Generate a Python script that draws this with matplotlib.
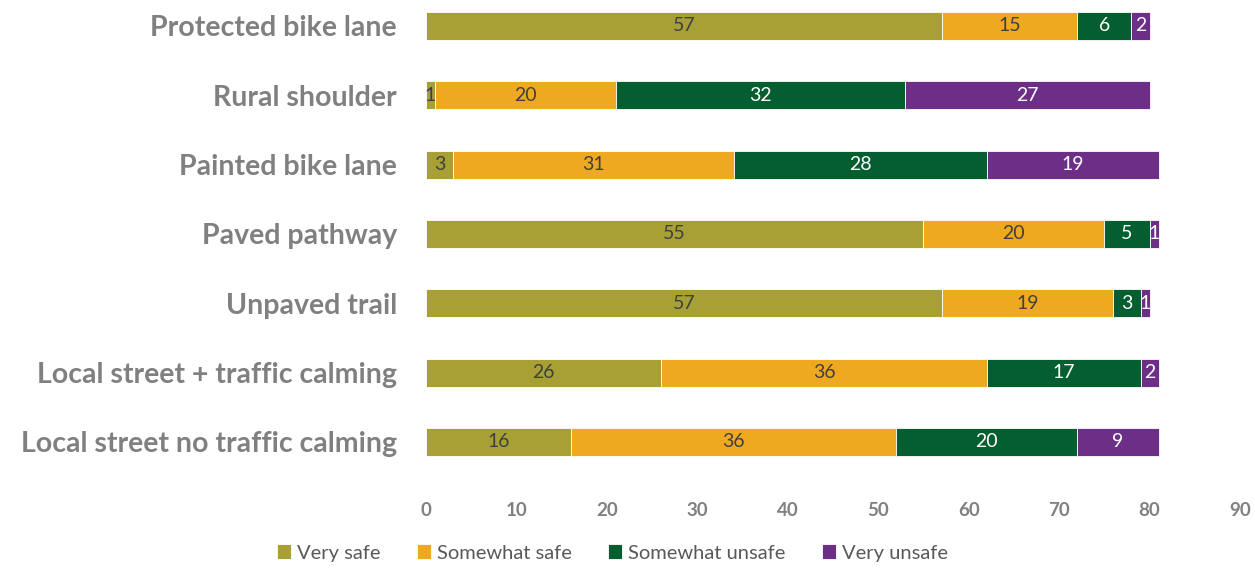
import matplotlib.pyplot as plt
import numpy as np

categories = ["Protected bike lane", "Rural shoulder", "Painted bike lane",
              "Paved pathway", "Unpaved trail", "Local street + traffic calming",
              "Local street no traffic calming"]
series = ["Very safe", "Somewhat safe", "Somewhat unsafe", "Very unsafe"]
very_safe = [57, 1, 3, 55, 57, 26, 16]
somewhat_safe = [15, 20, 31, 20, 19, 36, 36]
somewhat_unsafe = [6, 32, 28, 5, 3, 17, 20]
very_unsafe = [2, 27, 19, 1, 1, 2, 9]

colors = ["#A6A035", "#EFA920", "#045E2F", "#6D2E88"]
text_colors = ["#404040", "#404040", "white", "white"]

plt.rcParams['font.family'] = ['Lato', 'DejaVu Sans']

fig = plt.figure(figsize=(12.55, 5.74), dpi=100)
ax = fig.add_axes([426 / 1255, 1 - 477 / 574, (1240 - 426) / 1255, 477 / 574])

y = np.arange(len(categories))
left = np.zeros(len(categories))
for name, vals, col, tc in zip(series, [very_safe, somewhat_safe, somewhat_unsafe, very_unsafe],
                               colors, text_colors):
    vals = np.array(vals, dtype=float)
    bars = ax.barh(y, vals, left=left, height=0.4, color=col, label=name,
                   edgecolor="white", linewidth=0.6)
    ax.bar_label(bars, labels=[str(int(v)) for v in vals], label_type="center",
                 color=tc, fontsize=14)
    left += vals

ax.set_xlim(0, 90)
ax.set_ylim(6.505, -0.375)
ax.set_xticks(np.arange(0, 91, 10))
ax.set_yticks(y)
ax.set_yticklabels(categories, fontsize=20.5, fontweight="bold", color="#808080")
ax.tick_params(axis="x", labelsize=13.5, labelcolor="#808080", length=0, pad=18)
ax.tick_params(axis="y", length=0, pad=21)
for lbl in ax.get_xticklabels():
    lbl.set_fontweight("bold")
for s in ax.spines.values():
    s.set_visible(False)

fig.legend(loc="center", bbox_to_anchor=(0.488, 1 - 553 / 574), ncol=4, frameon=False,
           fontsize=14.5, labelcolor="#595959", handlelength=0.7, handleheight=0.7,
           handletextpad=0.3, columnspacing=1.8)

fig.savefig("out.png", dpi=100)
